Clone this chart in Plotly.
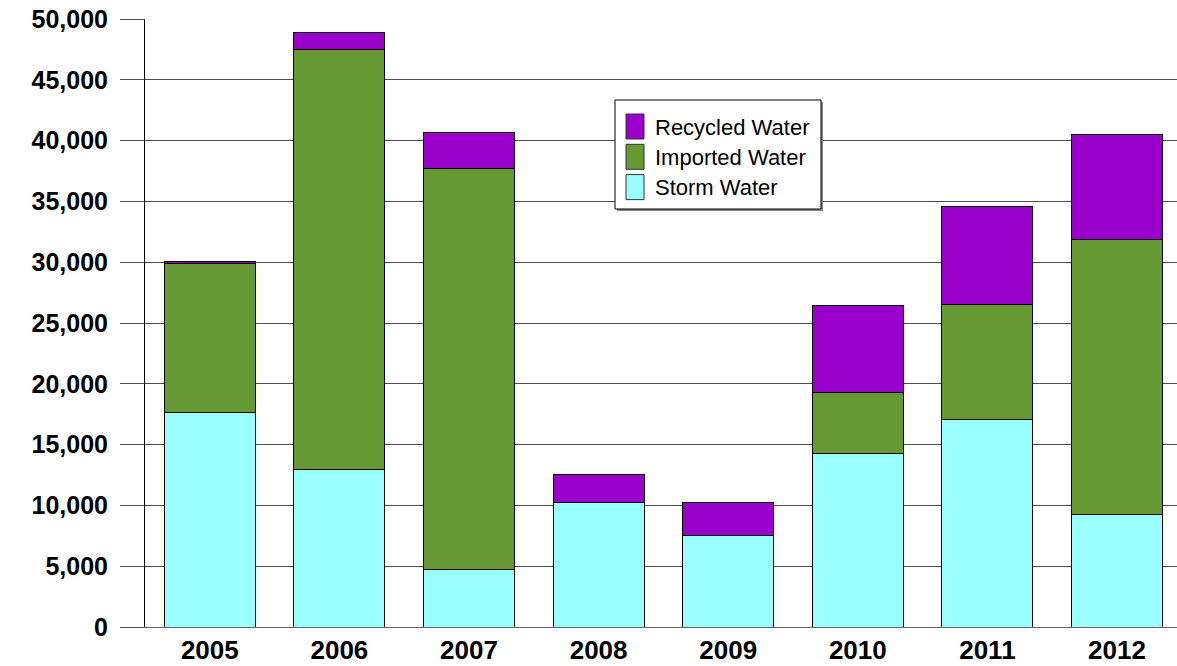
import plotly.graph_objects as go

# Water supply by source, acre-feet per year
years = ["2005", "2006", "2007", "2008", "2009", "2010", "2011", "2012"]
storm_water = [17650, 12960, 4720, 10210, 7490, 14270, 17070, 9280]
imported_water = [12260, 34570, 32980, 0, 0, 4990, 9470, 22550]
recycled_water = [140, 1320, 3000, 2330, 2720, 7220, 8030, 8650]

series_names = ["Storm Water", "Imported Water", "Recycled Water"]
series_colors = ["#99FFFF", "#669933", "#9900CC"]
y_ticks = [0, 5000, 10000, 15000, 20000, 25000, 30000, 35000, 40000, 45000, 50000]

W, H = 1177, 666
ML, MR, MT, MB = 145, 0, 19, 39
PW = W - ML - MR
PH = H - MT - MB
SLOT = 129.6  # pixel width of one category slot

fig = go.Figure()
for name, vals, col in zip(series_names, [storm_water, imported_water, recycled_water], series_colors):
    fig.add_trace(go.Bar(
        x=list(range(len(years))), y=vals, name=name,
        marker=dict(color=col, line=dict(color="black", width=1)),
        showlegend=False,
    ))

fig.update_layout(
    width=W, height=H,
    margin=dict(l=ML, r=MR, t=MT, b=MB),
    barmode="stack", bargap=0.298,
    plot_bgcolor="white", paper_bgcolor="white",
    font=dict(family="Liberation Sans, Arial, sans-serif", color="black"),
)
fig.update_xaxes(
    range=[-0.5, -0.5 + PW / SLOT],
    tickmode="array", tickvals=list(range(len(years))), ticktext=years,
    tickfont=dict(size=26, family="Liberation Sans, Arial, sans-serif", weight="bold"),
    showgrid=False, showline=True, linecolor="#666666", linewidth=1,
    ticks="", zeroline=False, ticklabelstandoff=0,
)
fig.update_yaxes(
    range=[0, 50000],
    tickmode="array", tickvals=y_ticks, ticktext=[f"{v:,}" for v in y_ticks],
    tickfont=dict(size=25, family="Liberation Sans, Arial, sans-serif", weight="bold"),
    showgrid=True, gridcolor="#4d4d4d", gridwidth=1,
    ticks="outside", ticklen=24, tickcolor="#4d4d4d", tickwidth=1,
    showline=True, linecolor="black", linewidth=1,
    zeroline=False, ticklabelstandoff=7,
)

# Legend box drawn in pixel space, converted to paper coordinates
def px(x):
    return (x - ML) / PW

def py(y):
    return (H - MB - y) / PH

box = (615, 100, 821, 209)
fig.add_shape(type="rect", xref="paper", yref="paper",
              x0=px(box[0] + 2), x1=px(box[2] + 2), y0=py(box[1] + 2), y1=py(box[3] + 2),
              fillcolor="#888888", line=dict(width=0), layer="above")
fig.add_shape(type="rect", xref="paper", yref="paper",
              x0=px(box[0]), x1=px(box[2]), y0=py(box[1]), y1=py(box[3]),
              fillcolor="white", line=dict(color="black", width=1), layer="above")

legend_order = [("Recycled Water", "#9900CC"), ("Imported Water", "#669933"), ("Storm Water", "#99FFFF")]
for i, (label, col) in enumerate(legend_order):
    top = 114 + i * 30.3
    fig.add_shape(type="rect", xref="paper", yref="paper",
                  x0=px(626), x1=px(644), y0=py(top), y1=py(top + 25),
                  fillcolor=col, line=dict(color="#333333", width=1), layer="above")
    fig.add_annotation(xref="paper", yref="paper", x=px(653), y=py(top + 13),
                       text=label, showarrow=False, xanchor="left", yanchor="middle",
                       font=dict(size=22, family="Liberation Sans, Arial, sans-serif", color="black"))

fig.write_html("out.html")
